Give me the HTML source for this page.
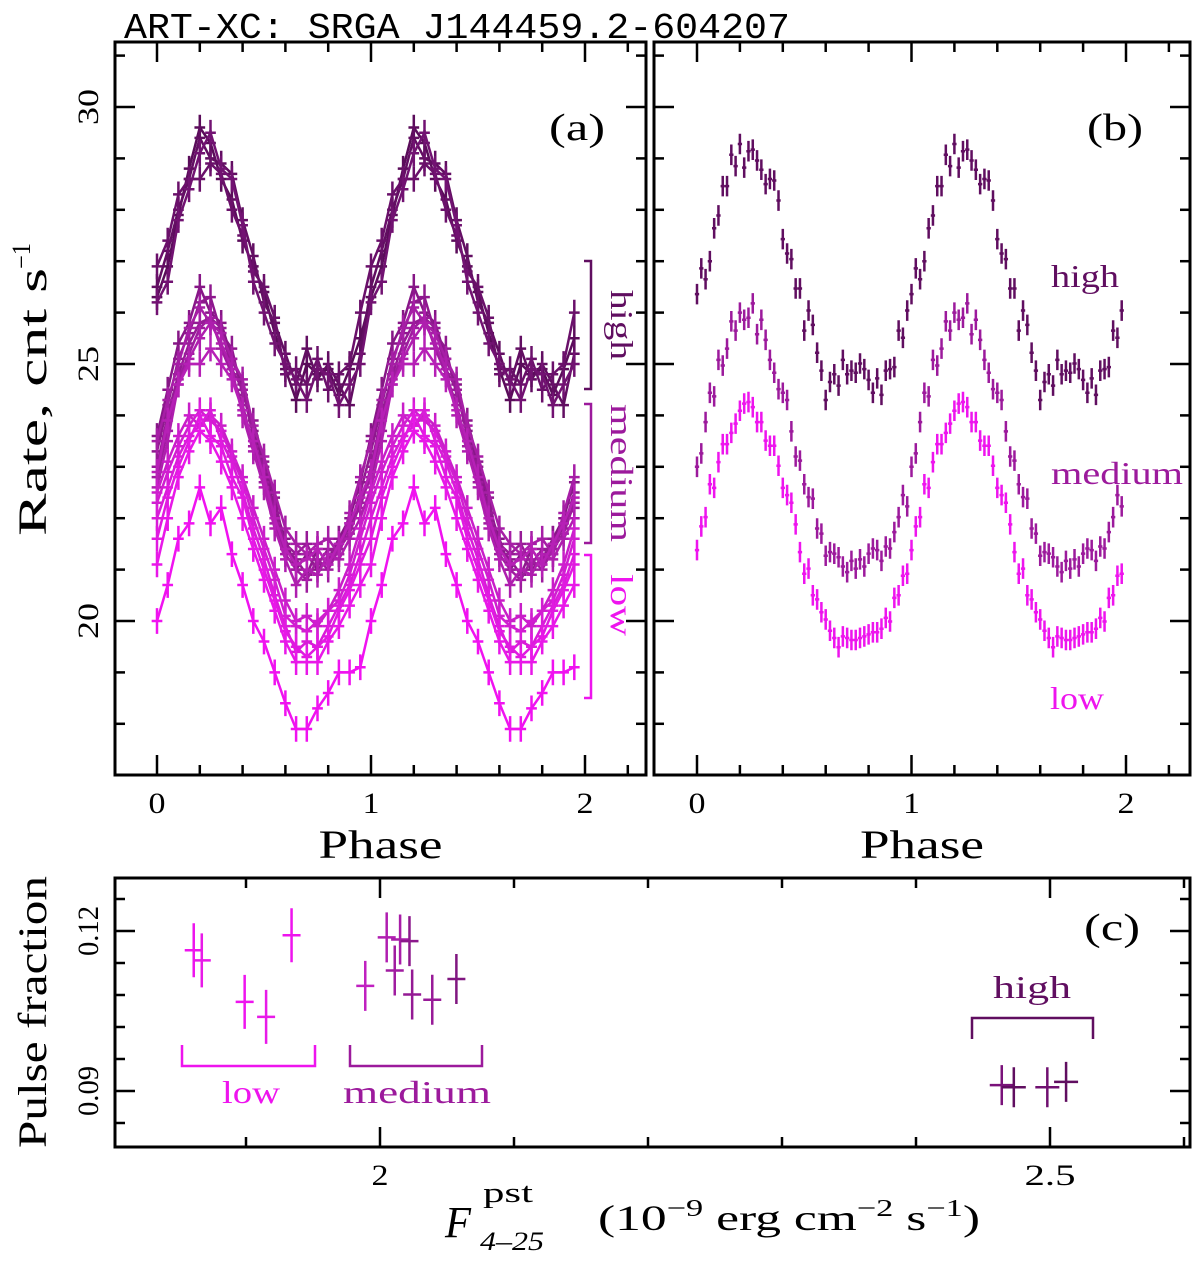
<!DOCTYPE html>
<html><head><meta charset="utf-8"><style>
html,body{margin:0;padding:0;background:#fff}
svg{display:block}
text{font-family:"Liberation Serif",serif}
</style></head><body>
<svg id="chart" xmlns="http://www.w3.org/2000/svg" width="1200" height="1261" viewBox="0 0 1200 1261">
<text x="124" y="38" textLength="666" lengthAdjust="spacingAndGlyphs" style="font-family:'Liberation Mono',monospace;font-size:36px;fill:#000">ART-XC: SRGA J144459.2-604207</text>
<g id="pa"></g>
<g id="pb"></g>
<g id="pc"></g>
</svg>
<script>
// ---- Panel (a): individual observation profiles, 20 bins per cycle ----
const h1=[26.3,26.9,27.9,28.8,29.6,29.3,28.6,28.2,27.4,26.9,26.4,25.6,24.9,24.3,25.0,24.8,24.9,24.4,24.9,25.5];
const h2=[26.5,27.2,28.0,28.6,29.4,29.0,28.9,28.7,27.8,27.1,26.2,25.8,25.2,24.6,25.3,24.7,25.0,24.6,24.2,25.2];
const h3=[26.9,27.4,28.3,28.6,28.6,28.9,28.7,28.0,27.5,26.8,26.5,25.9,24.8,24.9,24.6,25.1,24.5,24.8,25.0,26.0];
const h4=[26.2,26.6,27.8,28.4,29.1,29.5,28.8,28.6,27.7,26.6,26.0,25.4,25.0,24.7,24.3,24.9,24.8,24.2,24.6,25.0];
const m1=[23.6,24.5,25.4,25.8,26.5,26.0,25.8,25.1,24.6,23.7,23.0,22.2,21.6,21.0,21.3,21.0,21.2,21.6,22.0,22.7];
const m2=[23.3,24.2,25.1,25.6,26.2,26.3,25.6,25.3,24.4,23.9,23.1,22.4,21.4,21.2,20.9,21.4,21.1,21.6,21.8,22.5];
const m3=[23.0,24.0,24.8,25.4,25.8,25.9,25.7,24.9,24.5,23.6,22.9,22.1,21.5,21.3,21.5,21.1,21.4,21.3,21.9,22.2];
const m4=[22.8,23.7,24.7,25.2,25.7,25.9,25.3,24.8,24.2,23.4,22.7,21.9,21.3,21.0,20.8,21.2,21.0,21.4,21.7,22.3];
const m5=[23.5,24.3,25.0,25.7,26.1,25.8,25.6,25.1,24.7,23.8,23.2,22.5,21.8,21.5,21.3,21.5,21.6,21.3,22.1,22.8];
const m6=[22.6,23.5,24.6,25.1,25.5,25.8,25.4,24.9,24.0,23.3,22.6,21.8,21.2,20.7,21.0,20.9,21.3,21.2,21.6,22.0];
const m7=[22.9,23.9,24.6,25.0,25.0,25.3,25.0,24.7,24.1,23.5,22.8,22.0,21.4,21.1,21.2,21.4,21.1,21.5,21.9,22.4];
const l1=[20.0,20.7,21.6,21.9,22.6,21.9,22.2,21.3,20.7,20.0,19.6,19.0,18.4,17.9,17.9,18.3,18.6,19.0,19.0,19.1];
const l2=[21.1,22.0,22.8,23.3,23.7,23.5,23.1,22.6,22.0,21.4,20.8,20.2,19.6,19.2,19.2,19.2,19.6,19.9,20.3,20.7];
const l3=[21.6,22.4,23.0,23.5,24.0,23.6,23.4,22.8,22.4,21.6,21.0,20.4,19.8,19.5,19.3,19.5,19.7,20.2,20.6,21.1];
const l4=[22.0,22.6,23.2,23.6,23.8,24.1,23.5,23.1,22.5,21.8,21.2,20.5,19.9,19.4,19.6,19.5,19.9,20.3,20.7,21.3];
const l5=[22.3,22.9,23.4,23.8,24.1,23.9,23.7,23.2,22.7,22.0,21.4,20.8,20.1,19.9,19.8,20.0,20.2,20.4,20.9,21.6];
const l6=[22.5,23.1,23.6,24.0,23.8,24.0,23.8,23.3,22.8,22.2,21.6,21.0,20.4,20.0,20.1,19.9,20.2,20.6,21.1,21.8];
// ---- Panel (b): averaged profiles, 50 bins per cycle ----
const highAvg=[26.36,26.86,26.65,27.0,27.64,27.89,28.46,28.46,29.07,28.85,29.28,28.82,29.14,29.17,28.96,28.78,28.5,28.6,28.57,28.18,27.43,27.15,27.04,26.47,26.47,25.65,26.04,25.76,25.22,24.87,24.3,24.65,24.8,24.58,25.08,24.8,24.87,24.83,25.01,24.9,24.69,24.44,24.72,24.4,24.87,24.9,24.94,25.65,25.51,26.04];
const medAvg=[23.0,23.26,23.87,24.44,24.37,25.08,24.97,25.3,25.83,25.65,26.0,25.86,25.9,26.18,25.58,25.86,25.47,25.08,24.83,24.51,24.44,24.3,23.69,23.2,23.12,22.66,22.41,22.38,21.8,21.7,21.27,21.34,21.31,21.24,21.06,20.95,21.17,21.02,21.2,21.06,21.31,21.41,21.38,21.17,21.45,21.41,21.73,22.02,22.45,22.23];
const lowAvg=[21.38,21.84,22.02,22.66,22.59,23.09,23.44,23.44,23.66,23.84,24.09,24.23,24.26,24.16,23.87,23.87,23.51,23.41,23.41,23.02,22.59,22.45,22.3,21.88,21.34,20.92,21.02,20.5,20.42,20.17,20.03,19.81,19.67,19.49,19.7,19.67,19.63,19.63,19.67,19.7,19.74,19.78,19.78,19.85,20.06,19.99,20.45,20.5,20.88,20.92];
// ---- Panel (c): pulse fraction vs flux ----
const lowFlux=[1.861,1.867,1.899,1.915,1.934];
const lowPF=[0.1164,0.1145,0.1067,0.1039,0.1192];
const medFlux=[1.989,2.005,2.011,2.015,2.022,2.024,2.039,2.057];
const medPF=[0.1097,0.1188,0.1126,0.1184,0.1181,0.1081,0.1071,0.1110];
const highFlux=[2.464,2.473,2.498,2.512];
const highPF=[0.0911,0.0907,0.0907,0.0917];
const rateTicks=["20","25","30"];
const phaseTicks=["0","1","2"];
const pfTicks=["0.09","0.12"];
const fluxTicks=["2","2.5"];

const NS="http://www.w3.org/2000/svg";
function mk(parent,tag,attrs){const e=document.createElementNS(NS,tag);for(const k in attrs)e.setAttribute(k,attrs[k]);parent.appendChild(e);return e;}
const HIGHC="#600e60",MEDC="#9c1a9c",LOWC="#ee14ee";
const pa=document.getElementById('pa'),pb=document.getElementById('pb'),pc=document.getElementById('pc');

// axis functions
const yR=v=>107+(30-v)*51.4;
const xA=p=>157+214*p;
const xB=p=>697+214.5*p;
const xC=f=>380+(f-2)*1340;
const yC=v=>931+(0.12-v)*5333;

function txt(g,s,x,y,size,color,name,rot,w){const t=mk(g,'text',{x:0,y:0,'font-size':size,'text-anchor':'middle',style:'fill:'+color,transform:`translate(${x},${y})`+(rot?` rotate(${rot})`:'')});t.textContent=s;
  if(w){t.setAttribute('textLength',w);t.setAttribute('lengthAdjust','spacingAndGlyphs');}
  
  return t;}

function frame(g,x0,x1,y0,y1,name){
  const r=mk(g,'rect',{x:x0,y:y0,width:x1-x0,height:y1-y0,fill:'none',stroke:'#000','stroke-width':3});
  
  
}
function phaseFrame(g,xf,x0,x1,name,labels){
  frame(g,x0,x1,42,775,name+'-frame');
  for(let i=-1;i<=11;i++){const p=i*0.2;const x=xf(p);if(x<=x0+2||x>=x1-2)continue;
    const L=(i%5===0)?20:10;
    const t1=mk(g,'line',{x1:x,x2:x,y1:42,y2:42+L,stroke:'#000','stroke-width':2.5});
    
    
    const t2=mk(g,'line',{x1:x,x2:x,y1:775,y2:775-L,stroke:'#000','stroke-width':2.5});
    
    }
  phaseTicks.forEach(s=>{txt(g,s,xf(+s),813,30,'#000','x-tick-label',0,17);});
  for(let v=18;v<=31;v++){const y=yR(v);const L=(v%5===0)?20:10;
    const a=mk(g,'line',{x1:x0,x2:x0+L,y1:y,y2:y,stroke:'#000','stroke-width':2.5});
    
    
    const b=mk(g,'line',{x1:x1,x2:x1-L,y1:y,y2:y,stroke:'#000','stroke-width':2.5});
    
    }
  if(labels){rateTicks.forEach(s=>{txt(g,s,98,yR(+s),30,'#000','y-tick-label',-90,36);});}
  txt(g,'Phase',(x0+x1)/2,858,40,'#000','x-axis-title',0,124);
}
phaseFrame(pa,xA,115,646,'panel-a',true);
phaseFrame(pb,xB,654,1190,'panel-b',false);

txt(pa,'Rate, cnt s',46,402,40,'#000','y-axis-title',-90,268);
txt(pa,'−1',30,256,26,'#000','y-axis-title-exponent',-90,26);
txt(pa,'(a)',577,140,38,'#000','panel-a-label',0,56);
txt(pb,'(b)',1115,140,38,'#000','panel-b-label',0,56);

// panel (a) curves
const curvesA=[h1,h2,h3,h4,m1,m2,m3,m4,m5,m6,m7,l6,l5,l4,l3,l2,l1];
const colorsA=["#5a0c5a","#620e62","#6a106a","#721272","#861686","#8e188e","#961a96","#9e1c9e","#a61ea6","#ae1eae","#b620b6","#c81ec8","#d01ed0","#d81cd8","#e01ae0","#e818e8","#f012f0"];
curvesA.forEach((c,ci)=>{
  const g=mk(pa,'g',{stroke:colorsA[ci],fill:'none','stroke-width':2.5});
  
  
  const pts=[];
  for(let k=0;k<2*c.length;k++){const p=k/c.length;const v=c[k%c.length];pts.push(xA(p)+','+yR(v));}
  const pl=mk(g,'polyline',{points:pts.join(' ')});
  
  
  for(let k=0;k<2*c.length;k++){const p=k/c.length;const v=c[k%c.length];
    const e=mk(g,'path',{d:`M${xA(p-0.025)} ${yR(v)}H${xA(p+0.025)}M${xA(p)} ${yR(v+0.25)}V${yR(v-0.25)}`});
    
    }
});
// brackets in (a)
function brkV(g,x,y0,y1,color,name){const p=mk(g,'path',{d:`M${x-7} ${y0}H${x}V${y1}H${x-7}`,fill:'none',stroke:color,'stroke-width':2.5});
  
  }
brkV(pa,591,261,389,HIGHC,'high-bracket');
brkV(pa,591,404,543,MEDC,'medium-bracket');
brkV(pa,591,555,698,LOWC,'low-bracket');
txt(pa,'high',611,325,32,HIGHC,'high-label-a',90,70);
txt(pa,'medium',611,473,32,MEDC,'medium-label-a',90,138);
txt(pa,'low',611,605,32,LOWC,'low-label-a',90,62);

// panel (b)
[[highAvg,HIGHC,'high-profile'],[medAvg,MEDC,'medium-profile'],[lowAvg,LOWC,'low-profile']].forEach(([c,col,nm])=>{
  const g=mk(pb,'g',{stroke:col,fill:'none','stroke-width':2.5});
  
  
  for(let k=0;k<2*c.length;k++){const p=k/c.length;const v=c[k%c.length];
    const e=mk(g,'path',{d:`M${xB(p-0.01)} ${yR(v)}H${xB(p+0.01)}M${xB(p)} ${yR(v+0.2)}V${yR(v-0.2)}`});
    
    }
});
txt(pb,'high',1085,287,32,HIGHC,'high-label-b',0,68);
txt(pb,'medium',1117,484,32,MEDC,'medium-label-b',0,132);
txt(pb,'low',1077,709,32,LOWC,'low-label-b',0,54);

// panel (c)
frame(pc,115,1190,878,1147,'panel-c-frame');
for(let i=19;i<=26;i++){const f=i/10;const x=xC(f);if(x<=117||x>=1188)continue;const L=(i===20||i===25)?20:10;
  const a=mk(pc,'line',{x1:x,x2:x,y1:878,y2:878+L,stroke:'#000','stroke-width':2.5});
  
  
  const b=mk(pc,'line',{x1:x,x2:x,y1:1147,y2:1147-L,stroke:'#000','stroke-width':2.5});
  
  }
for(let i=14;i<=21;i++){const v=i*0.006;const y=yC(v);if(y<=880||y>=1145)continue;const L=(i===15||i===20)?20:10;
  const a=mk(pc,'line',{x1:115,x2:115+L,y1:y,y2:y,stroke:'#000','stroke-width':2.5});
  
  
  const b=mk(pc,'line',{x1:1190,x2:1190-L,y1:y,y2:y,stroke:'#000','stroke-width':2.5});
  
  }
pfTicks.forEach(s=>{txt(pc,s,98,yC(+s),30,'#000','y-tick-label',-90,50);});
fluxTicks.forEach(s=>{txt(pc,s,xC(+s),1185,30,'#000','x-tick-label',0,s.length*17);});
txt(pc,'Pulse fraction',46,1012,40,'#000','y-axis-title',-90,272);
txt(pc,'(c)',1112,940,38,'#000','panel-c-label',0,56);
txt(pc,'F',458,1237,44,'#000','x-axis-title-symbol',0,26).setAttribute('font-style','italic');
txt(pc,'pst',508,1202,28,'#000','x-axis-title-superscript',0,50);
txt(pc,'4–25',512,1250,26,'#000','x-axis-title-subscript',0,64).setAttribute('font-style','italic');
const xt=mk(pc,'text',{x:598,y:1230,'font-size':36,style:'fill:#000',textLength:382,lengthAdjust:'spacingAndGlyphs'});


xt.innerHTML='(10<tspan dy="-14" font-size="24">−9</tspan><tspan dy="14"> erg cm</tspan><tspan dy="-14" font-size="24">−2</tspan><tspan dy="14"> s</tspan><tspan dy="-14" font-size="24">−1</tspan><tspan dy="14">)</tspan>';

function pcPoints(fx,pf,cols,ex,ey,name){fx.forEach((f,i)=>{
  const e=mk(pc,'path',{d:`M${xC(f)-ex} ${yC(pf[i])}H${xC(f)+ex}M${xC(f)} ${yC(pf[i])-ey}V${yC(pf[i])+ey}`,stroke:cols[i%cols.length],'stroke-width':2.5,fill:'none'});
  
  });}
pcPoints(lowFlux,lowPF,[LOWC,"#e81ae8"],9,27,'low-point');
pcPoints(medFlux,medPF,["#c020c0","#b01eb0","#a01ca0","#a81ca8","#8c188c","#941a94","#981a98","#801680"],9,25,'medium-point');
pcPoints(highFlux,highPF,["#7a127a",HIGHC,"#701070",HIGHC],12,20,'high-point');
function brkH(x0,x1,yb,ye,color,name){const p=mk(pc,'path',{d:`M${x0} ${ye}V${yb}H${x1}V${ye}`,fill:'none',stroke:color,'stroke-width':2.5});
  
  }
brkH(182,315,1066,1045,LOWC,'low-bracket-c');
brkH(350,482,1066,1045,MEDC,'medium-bracket-c');
brkH(972,1093,1018,1039,HIGHC,'high-bracket-c');
txt(pc,'low',251,1103,32,LOWC,'low-label-c',0,58);
txt(pc,'medium',417,1103,32,MEDC,'medium-label-c',0,148);
txt(pc,'high',1032,998,32,HIGHC,'high-label-c',0,78);
</script>
</body></html>
